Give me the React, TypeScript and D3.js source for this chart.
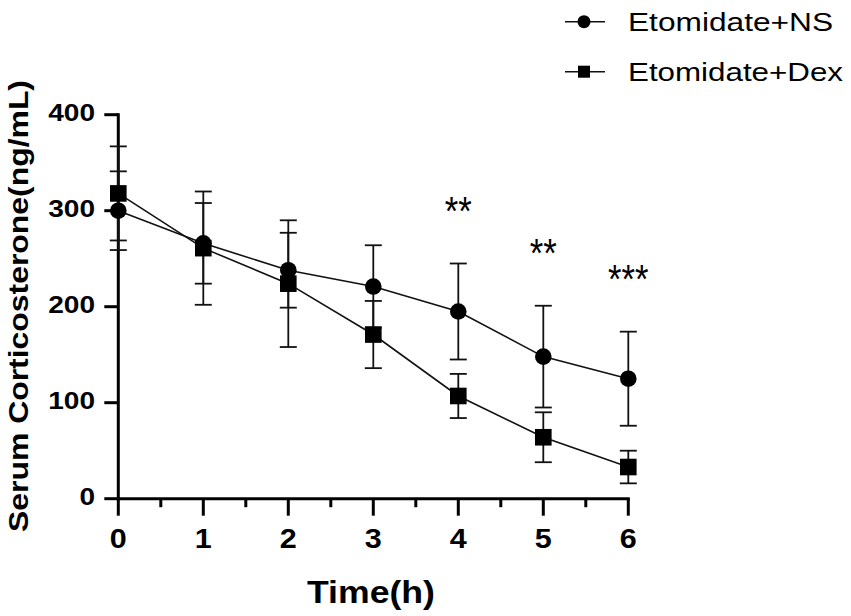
import React, { useEffect, useRef } from 'react';
import * as d3 from 'd3';

const times = [0, 1, 2, 3, 4, 5, 6];
const nsMean = [300, 266, 238, 221, 195, 148, 125];
const nsSd = [41, 42, 39, 43, 50, 53, 49];
const dexMean = [318, 261, 224, 171, 107, 64, 33];
const dexSd = [49, 59, 66, 35, 23, 26, 17];
const yTicks = [0, 100, 200, 300, 400];
const xMinorTicks = [0.5, 1.5, 2.5, 3.5, 4.5, 5.5];
const starTimes = [4, 5, 6];
const starLabels = ['**', '**', '***'];
const legendItems = ['Etomidate+NS', 'Etomidate+Dex'];

const FONT = 'Arial, "Liberation Sans", sans-serif';

const App: React.FC = () => {
  const svgRef = useRef<SVGSVGElement>(null);

  useEffect(() => {
    const svg = d3.select(svgRef.current);
    svg.selectAll('*').remove();

    const x = d3.scaleLinear().domain([0, 6]).range([118.3, 628.3]);
    const y = d3.scaleLinear().domain([0, 400]).range([498.7, 114.7]);

    const g = svg.append('g');

    // axes
    g.append('line')
      .attr('x1', x(0)).attr('x2', x(0))
      .attr('y1', y(400) - 1.5).attr('y2', y(0) + 1.5)
      .attr('stroke', '#000').attr('stroke-width', 3);
    g.append('line')
      .attr('x1', x(0) - 1.5).attr('x2', x(6) + 1.5)
      .attr('y1', y(0)).attr('y2', y(0))
      .attr('stroke', '#000').attr('stroke-width', 3);

    g.selectAll('.ytick')
      .data(yTicks)
      .enter()
      .append('line')
      .attr('x1', x(0) - 14).attr('x2', x(0))
      .attr('y1', d => y(d)).attr('y2', d => y(d))
      .attr('stroke', '#000').attr('stroke-width', 3);

    g.selectAll('.ylab')
      .data(yTicks)
      .enter()
      .append('text')
      .attr('x', 95)
      .attr('y', d => y(d) + 6)
      .attr('text-anchor', 'end')
      .attr('font-family', FONT)
      .attr('font-weight', 'bold')
      .attr('font-size', 24)
      .attr('textLength', d => String(d).length * 15.6)
      .attr('lengthAdjust', 'spacingAndGlyphs')
      .text(d => String(d));

    g.selectAll('.xtick')
      .data(times)
      .enter()
      .append('line')
      .attr('x1', d => x(d)).attr('x2', d => x(d))
      .attr('y1', y(0)).attr('y2', y(0) + 17)
      .attr('stroke', '#000').attr('stroke-width', 3);

    g.selectAll('.xminor')
      .data(xMinorTicks)
      .enter()
      .append('line')
      .attr('x1', d => x(d)).attr('x2', d => x(d))
      .attr('y1', y(0)).attr('y2', y(0) + 8.5)
      .attr('stroke', '#000').attr('stroke-width', 3);

    g.selectAll('.xlab')
      .data(times)
      .enter()
      .append('text')
      .attr('x', d => x(d))
      .attr('y', 548)
      .attr('text-anchor', 'middle')
      .attr('font-family', FONT)
      .attr('font-weight', 'bold')
      .attr('font-size', 27)
      .attr('textLength', 17)
      .attr('lengthAdjust', 'spacingAndGlyphs')
      .text(d => String(d));

    // axis titles
    g.append('text')
      .attr('x', 371)
      .attr('y', 603)
      .attr('text-anchor', 'middle')
      .attr('font-family', FONT)
      .attr('font-weight', 'bold')
      .attr('font-size', 31)
      .attr('textLength', 128)
      .attr('lengthAdjust', 'spacingAndGlyphs')
      .text('Time(h)');

    g.append('text')
      .attr('transform', 'translate(28, 306) rotate(-90)')
      .attr('text-anchor', 'middle')
      .attr('font-family', FONT)
      .attr('font-weight', 'bold')
      .attr('font-size', 27)
      .attr('textLength', 452)
      .attr('lengthAdjust', 'spacingAndGlyphs')
      .text('Serum Corticosterone(ng/mL)');

    const series = [
      { mean: nsMean, sd: nsSd, shape: 'circle' },
      { mean: dexMean, sd: dexSd, shape: 'square' },
    ];

    const line = d3.line<number>()
      .x((_, i) => x(times[i]))
      .y(d => y(d));

    // error bars
    series.forEach(s => {
      const eb = g.append('g');
      times.forEach((t, i) => {
        const hi = y(s.mean[i] + s.sd[i]);
        const lo = y(s.mean[i] - s.sd[i]);
        eb.append('line')
          .attr('x1', x(t)).attr('x2', x(t))
          .attr('y1', hi).attr('y2', lo)
          .attr('stroke', '#111').attr('stroke-width', 1.8);
        [hi, lo].forEach(yy => {
          eb.append('line')
            .attr('x1', x(t) - 8.5).attr('x2', x(t) + 8.5)
            .attr('y1', yy).attr('y2', yy)
            .attr('stroke', '#111').attr('stroke-width', 1.8);
        });
      });
    });

    // lines + markers
    series.forEach(s => {
      g.append('path')
        .datum(s.mean)
        .attr('fill', 'none')
        .attr('stroke', '#111')
        .attr('stroke-width', 1.6)
        .attr('d', line);
    });

    series.forEach(s => {
      if (s.shape === 'circle') {
        g.selectAll(null)
          .data(s.mean)
          .enter()
          .append('circle')
          .attr('cx', (_, i) => x(times[i]))
          .attr('cy', d => y(d))
          .attr('r', 8.3)
          .attr('fill', '#000');
      } else {
        g.selectAll(null)
          .data(s.mean)
          .enter()
          .append('rect')
          .attr('x', (_, i) => x(times[i]) - 8.3)
          .attr('y', d => y(d) - 8.3)
          .attr('width', 16.6)
          .attr('height', 16.6)
          .attr('fill', '#000');
      }
    });

    // significance stars, above the NS error bar
    starTimes.forEach((t, k) => {
      const i = times.indexOf(t);
      const label = starLabels[k];
      g.append('text')
        .attr('x', x(t))
        .attr('y', y(nsMean[i] + nsSd[i]) - 38.5)
        .attr('text-anchor', 'middle')
        .attr('font-family', FONT)
        .attr('font-size', 40)
        .attr('textLength', label.length * 13.5)
        .attr('lengthAdjust', 'spacingAndGlyphs')
        .text(label);
    });

    // legend
    legendItems.forEach((label, i) => {
      const cy = 21.7 + i * 50;
      const lg = g.append('g');
      lg.append('line')
        .attr('x1', 565).attr('x2', 605)
        .attr('y1', cy).attr('y2', cy)
        .attr('stroke', '#111').attr('stroke-width', 1.6);
      if (i === 0) {
        lg.append('circle').attr('cx', 584).attr('cy', cy).attr('r', 6.5).attr('fill', '#000');
      } else {
        lg.append('rect').attr('x', 578).attr('y', cy - 6).attr('width', 12).attr('height', 12).attr('fill', '#000');
      }
      lg.append('text')
        .attr('x', 628)
        .attr('y', cy + 9)
        .attr('font-family', FONT)
        .attr('font-size', 25)
        .attr('textLength', i === 0 ? 205 : 215)
        .attr('lengthAdjust', 'spacingAndGlyphs')
        .text(label);
    });
  }, []);

  return (
    <div style={{ position: 'absolute', left: 0, top: 0, background: '#fff' }}>
      <svg ref={svgRef} width={851} height={616} style={{ display: 'block' }} />
    </div>
  );
};

export default App;
